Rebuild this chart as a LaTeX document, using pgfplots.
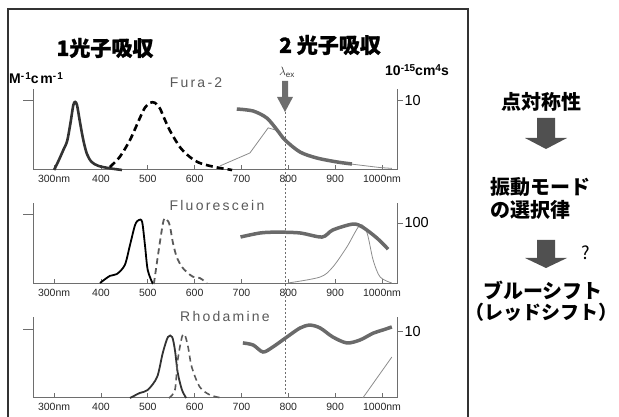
\documentclass[border=0pt]{standalone}
\usepackage{fontspec}
\setmainfont{Liberation Sans}
\newfontfamily\jp{Noto Sans CJK JP}
\usepackage{pgfplots}
\pgfplotsset{compat=1.18}
\definecolor{axc}{HTML}{6E6E6E}
\definecolor{twoc}{HTML}{6A6A6A}
\definecolor{thinc}{HTML}{8C8C8C}
\definecolor{absc}{HTML}{333333}
\definecolor{emc}{HTML}{5A5A5A}
\definecolor{arr}{HTML}{505050}
\pgfplotsset{panel/.style={scale only axis, width=364pt, height=81pt,
  xmin=255, xmax=1032, ymin=0, ymax=1,
  axis x line*=bottom, axis y line*=left,
  axis line style={axc, line width=1pt},
  xtick={300,400,...,1000}, xticklabels={300nm,400,500,600,700,800,900,1000nm},
  ytick=\empty, tick align=inside, major tick length=5pt,
  tick style={axc, line width=0.8pt},
  xticklabel style={font=\fontsize{10.5}{10.5}\selectfont, text=black!85, inner sep=1pt, yshift=-3.5pt},
  clip=false, anchor=south west},
  twopl/.style={twoc, line width=3.5pt, smooth, no markers},
  thinl/.style={thinc, line width=0.8pt, no markers},
}
\newcommand{\paneldecor}[3]{%
  \draw[axc, line width=1pt] (axis cs:1032,0) -- (axis cs:1032,1);
  \draw[axc, line width=1pt] (axis cs:255,#1) -- (axis cs:233.7,#1);
  \draw[axc, line width=1pt] (axis cs:1032,#2) -- (axis cs:1045,#2) node[anchor=west, inner sep=1pt, text=black, font=\fontsize{14.5}{14.5}\selectfont] {#3};
}
\begin{document}
\begin{tikzpicture}
\path[use as bounding box] (0pt,0pt) rectangle (619pt,417pt);
% frame
\draw[black!80, line width=1.2pt] (8pt,-5pt) -- (8pt,408pt) -- (468pt,408pt) -- (468pt,-5pt);

% Panel 1: Fura-2
\begin{axis}[panel, at={(33pt,247pt)}]
\paneldecor{0.864}{0.852}{10}
\addplot[absc, line width=2.6pt, smooth, tension=0.5] coordinates {(300,0)(310,0.12)(320,0.25)(328,0.36)(335,0.58)(341,0.80)(345,0.84)(349,0.80)(355,0.6)(362,0.38)(370,0.2)(380,0.1)(395,0.05)(420,0.02)(445,0)};
\addplot[black, line width=2.6pt, dash pattern=on 7pt off 4pt, smooth, tension=0.5] coordinates {(419,0.037)(440,0.16)(462,0.37)(483,0.64)(494,0.77)(505,0.83)(515,0.83)(526,0.76)(532,0.68)(547,0.49)(569,0.28)(590,0.16)(611,0.086)(643,0.037)(680,0)};
\addplot[thinl] coordinates {(654,0.05)(718,0.21)(757,0.52)(775,0.49)(793,0.37)(825,0.21)(868,0.14)(910,0.09)(953,0.06)(996,0.03)(1021,0.02)};
\addplot[twopl] coordinates {(690,0.753)(725,0.728)(754,0.642)(776,0.494)(793,0.37)(825,0.222)(861,0.148)(904,0.099)(936,0.074)};
\end{axis}

% Panel 2: Fluorescein
\begin{axis}[panel, at={(33pt,133pt)}]
\paneldecor{0.852}{0.753}{100}
\addplot[black, line width=1.8pt, smooth, tension=0.5] coordinates {(398,0.012)(419,0.1)(434,0.123)(451,0.235)(462,0.48)(473,0.73)(481,0.79)(488,0.765)(494,0.48)(500,0.17)(511,0)};
\addplot[emc, line width=1.8pt, dash pattern=on 6pt off 4pt, smooth, tension=0.5] coordinates {(513,0)(532.5,0.753)(541,0.79)(547,0.72)(554,0.5)(562,0.33)(573,0.21)(583,0.15)(596,0.09)(611,0.074)(622,0.03)(626,0.012)};
\addplot[thinl, smooth] coordinates {(799,0.012)(868,0.086)(895,0.21)(925,0.457)(953,0.728)(968,0.63)(981,0.296)(996,0.086)(1021,0.012)};
\addplot[twopl] coordinates {(698,0.58)(740,0.63)(776,0.64)(825,0.63)(872,0.58)(895,0.667)(938,0.74)(959,0.70)(989,0.568)(1013,0.43)};
\end{axis}

% Panel 3: Rhodamine
\begin{axis}[panel, at={(33pt,19pt)}]
\paneldecor{0.84}{0.815}{10}
\addplot[absc, line width=1.8pt, smooth, tension=0.5] coordinates {(462,0)(483,0.062)(500,0.1)(520,0.26)(532,0.556)(543,0.753)(552,0.753)(558,0.59)(564,0.31)(573,0.1)(582,0)};
\addplot[emc, line width=1.6pt, dash pattern=on 6pt off 4pt, smooth, tension=0.5] coordinates {(545,0)(558,0.1)(564,0.47)(573,0.753)(579,0.78)(586,0.63)(594,0.38)(611,0.136)(633,0.037)(658,0)};
\addplot[thinl] coordinates {(959,0)(1021,0.506)};
\addplot[twopl] coordinates {(703,0.68)(725,0.654)(746,0.568)(767,0.63)(797,0.753)(825,0.864)(846,0.90)(868,0.864)(895,0.753)(925,0.68)(953,0.716)(981,0.80)(1002,0.84)(1021,0.877)};
\end{axis}

% excitation line and arrow
\draw[axc, line width=1pt, dash pattern=on 2pt off 2pt] (285pt,305pt) -- (285pt,22pt);
\fill[axc] (282pt,336pt) -- (288pt,336pt) -- (288pt,320pt) -- (293pt,320pt) -- (285pt,305pt) -- (277pt,320pt) -- (282pt,320pt) -- cycle;
\node[font=\fontsize{12}{12}\selectfont, text=black!80] at (287pt,345pt) {$\lambda_{\mathrm{ex}}$};

% headings
\node[font=\jp\bfseries\addfontfeature{FakeBold=1.2}\fontsize{21}{21}\selectfont] at (105pt,369pt) {1光子吸収};
\node[font=\jp\bfseries\addfontfeature{FakeBold=1.2}\fontsize{21}{21}\selectfont] at (330pt,372pt) {2 光子吸収};
\node[anchor=west, inner sep=0pt, font=\bfseries\addfontfeature{LetterSpace=12}\fontsize{14}{14}\selectfont] at (9pt,339pt) {M\raisebox{0.45ex}{\fontsize{10}{10}\selectfont -1}cm\raisebox{0.45ex}{\fontsize{10}{10}\selectfont -1}};
\node[font=\bfseries\fontsize{14}{14}\selectfont] at (417pt,347pt) {10\raisebox{0.45ex}{\fontsize{10}{10}\selectfont -15}cm\raisebox{0.45ex}{\fontsize{10}{10}\selectfont 4}s};
\node[font=\addfontfeature{LetterSpace=16}\fontsize{14}{14}\selectfont, text=black!65] at (196pt,334pt) {Fura-2};
\node[font=\addfontfeature{LetterSpace=16}\fontsize{14}{14}\selectfont, text=black!65] at (217pt,211pt) {Fluorescein};
\node[font=\addfontfeature{LetterSpace=16}\fontsize{14}{14}\selectfont, text=black!65] at (225pt,100pt) {Rhodamine};

% right side
\node[font=\jp\bfseries\fontsize{20}{20}\selectfont] at (541pt,315pt) {点対称性};
\fill[arr] (537pt,299pt) -- (555pt,299pt) -- (555pt,279pt) -- (567pt,279pt) -- (546pt,268pt) -- (525pt,279pt) -- (537pt,279pt) -- cycle;
\node[anchor=west, font=\jp\bfseries\fontsize{20}{20}\selectfont, inner sep=0pt] at (490pt,230pt) {振動モード};
\node[anchor=west, font=\jp\bfseries\fontsize{20}{20}\selectfont, inner sep=0pt] at (490pt,207pt) {の選択律};
\fill[arr] (537pt,177pt) -- (555pt,177pt) -- (555pt,159pt) -- (567pt,159pt) -- (546pt,149pt) -- (525pt,159pt) -- (537pt,159pt) -- cycle;
\node[font=\jp\fontsize{18}{18}\selectfont] at (586pt,164pt) {?};
\node[font=\jp\bfseries\fontsize{20}{20}\selectfont] at (543pt,127pt) {ブルーシフト};
\node[font=\jp\bfseries\fontsize{19}{19}\selectfont, inner sep=0pt] at (541pt,105pt) {（レッドシフト）};
\end{tikzpicture}
\end{document}
